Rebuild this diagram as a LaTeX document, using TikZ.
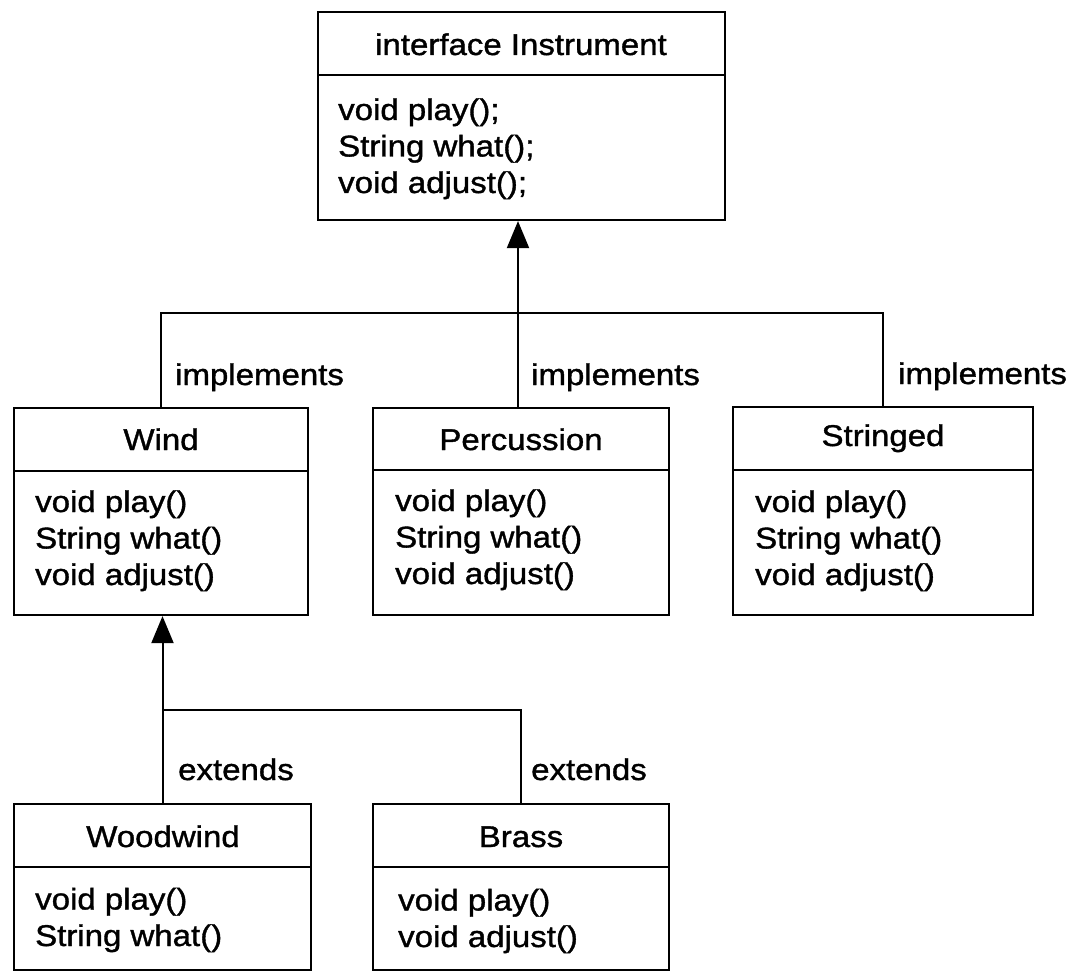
\documentclass[tikz,border=0pt]{standalone}
\usepackage{fontspec}
\setmainfont{Liberation Sans}[FakeStretch=1.1,FakeBold=1.2]
\usetikzlibrary{arrows.meta,fit}
\tikzset{
  cls/.style={draw, line width=2.2pt, inner sep=0pt},
  divider/.style={line width=2.2pt},
  conn/.style={line width=2pt},
  inh/.style={conn, -{Triangle[length=27pt,width=22pt]}},
  ttl/.style={anchor=base, inner sep=0pt, font=\fontsize{30}{36.5}\selectfont},
  mem/.style={anchor=base west, inner sep=0pt, align=left, font=\fontsize{30}{36.5}\selectfont},
  lbl/.style={anchor=base west, inner sep=0pt, font=\fontsize{30}{36.5}\selectfont},
}
\newcommand\classbox[6]{%
  \node[cls, fit={(#2,#3) (#4,#6)}] (#1) {};
  \draw[divider] (#2,#5) -- (#4,#5);
}
\begin{document}
\begin{tikzpicture}[x=1pt,y=-1pt]
\useasboundingbox (0,0) rectangle (1072,971);
% Instrument
\classbox{inst}{318}{12}{725}{75}{220}
\node[ttl] (instT) at (521,55) {interface Instrument};
\node[mem] (instM) at (338,193) {void play();\\String what();\\void adjust();};
% Wind
\classbox{wind}{14}{408}{308}{471}{615}
\node[ttl] (windT) at (161,450) {Wind};
\node[mem] (windM) at (35,585) {void play()\\String what()\\void adjust()};
% Percussion
\classbox{perc}{373}{408}{669}{470}{615}
\node[ttl] (percT) at (521,450) {Percussion};
\node[mem] (percM) at (395,584) {void play()\\String what()\\void adjust()};
% Stringed
\classbox{str}{733}{407}{1033}{470}{615}
\node[ttl] (strT) at (883,446) {Stringed};
\node[mem] (strM) at (755,585) {void play()\\String what()\\void adjust()};
% Woodwind
\classbox{wood}{14}{804}{311}{867}{970}
\node[ttl] (woodT) at (163,847) {Woodwind};
\node[mem] (woodM) at (35,946) {void play()\\String what()};
% Brass
\classbox{brass}{373}{804}{669}{867}{970}
\node[ttl] (brassT) at (521,847) {Brass};
\node[mem] (brassM) at (398,947) {void play()\\void adjust()};
% connectors
\coordinate (j1) at (518,313);
\coordinate (j2) at (163,710);
\draw[conn] (wind.north) |- (j1) -| (str.north);
\draw[inh] (j1 |- perc.north) -- (j1 |- inst.south);
\draw[conn] (brass.north) |- (j2);
\draw[inh] (wood.north) -- (wood.north |- wind.south);
% labels
\node[lbl] (imp1) at (175,385) {implements};
\node[lbl] (imp2) at (531,385) {implements};
\node[lbl] (imp3) at (898,384) {implements};
\node[lbl] (ext1) at (178,780) {extends};
\node[lbl] (ext2) at (531,780) {extends};
\end{tikzpicture}
\end{document}
